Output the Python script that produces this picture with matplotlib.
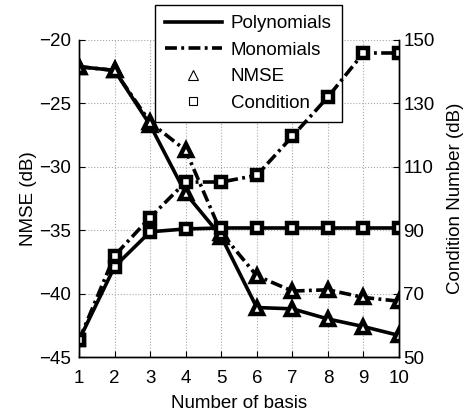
import matplotlib
matplotlib.use("Agg")
import matplotlib.pyplot as plt
from matplotlib.lines import Line2D

plt.rcParams['font.family'] = ['Liberation Sans', 'DejaVu Sans']
plt.rcParams['font.size'] = 13.5

basis = [1, 2, 3, 4, 5, 6, 7, 8, 9, 10]
nmse_poly = [-22.1, -22.4, -26.7, -32.1, -35.5, -41.1, -41.2, -42.0, -42.6, -43.3]
nmse_mono = [-22.1, -22.4, -26.5, -28.7, -35.2, -38.6, -39.8, -39.7, -40.3, -40.6]
cond_poly = [55.3, 78.5, 89.5, 90.4, 90.7, 90.7, 90.7, 90.7, 90.7, 90.7]
cond_mono = [55.3, 82.0, 94.0, 105.2, 105.2, 107.3, 119.6, 132.0, 145.9, 145.9]

left_ticks = [-45, -40, -35, -30, -25, -20]
right_ticks = [50, 70, 90, 110, 130, 150]

DASHDOT = (0, (3.3, 1.2, 0.8, 1.2))

fig = plt.figure(figsize=(4.71, 4.15), dpi=100)
ax = fig.add_axes([79 / 471, 1 - 357 / 415, 320 / 471, 317 / 415])
ax2 = ax.twinx()

tri = dict(color='black', markerfacecolor='white', markeredgecolor='black',
           marker='^', markersize=9, markeredgewidth=3.2, linewidth=2.6)
sq = dict(color='black', markerfacecolor='white', markeredgecolor='black',
          marker='s', markersize=7, markeredgewidth=3.2, linewidth=2.6)

ax.plot(basis, nmse_poly, linestyle='-', **tri)
ax.plot(basis, nmse_mono, linestyle=DASHDOT, **tri)
ax2.plot(basis, cond_poly, linestyle='-', **sq)
ax2.plot(basis, cond_mono, linestyle=DASHDOT, **sq)

ax.set_xlim(1, 10)
ax.set_ylim(-45, -20)
ax2.set_ylim(50, 150)
ax.set_xticks(basis)
ax.set_yticks(left_ticks)
ax2.set_yticks(right_ticks)
ax.grid(True, color='#a8a8a8', linestyle=':', linewidth=0.8)
ax.set_axisbelow(True)

for a in (ax, ax2):
    a.tick_params(direction='in', length=4, width=0.8)
    a.spines['top'].set_visible(False)
    for s in a.spines.values():
        s.set_linewidth(1.0)
ax.tick_params(axis='x', pad=9)
ax.tick_params(axis='y', pad=6)
ax2.tick_params(axis='y', pad=3)

ax.set_xlabel('Number of basis', labelpad=6)
ax.set_ylabel('NMSE (dB)', labelpad=1)
ax2.set_ylabel('Condition Number (dB)', labelpad=9)

handles = [
    Line2D([], [], color='black', linewidth=2.6, linestyle='-'),
    Line2D([], [], color='black', linewidth=2.6, linestyle=DASHDOT),
    Line2D([], [], color='black', linestyle='none', marker='^', markerfacecolor='white',
           markeredgecolor='black', markersize=7, markeredgewidth=0.8),
    Line2D([], [], color='black', linestyle='none', marker='s', markerfacecolor='white',
           markeredgecolor='black', markersize=6, markeredgewidth=0.8),
]
# legend lives on the lower axes so the condition-number curves are drawn over it
leg = ax.legend(handles, ['Polynomials', 'Monomials', 'NMSE', 'Condition'],
                loc='upper left', bbox_to_anchor=(155 / 471, 1 - 5 / 415),
                bbox_transform=fig.transFigure,
                frameon=True, fancybox=False, edgecolor='black', framealpha=1,
                handlelength=3.0, borderpad=0.55, labelspacing=0.5, handletextpad=0.5,
                borderaxespad=0)
leg.get_frame().set_linewidth(1.0)
leg.set_clip_on(False)

fig.savefig('out.png', dpi=100)
